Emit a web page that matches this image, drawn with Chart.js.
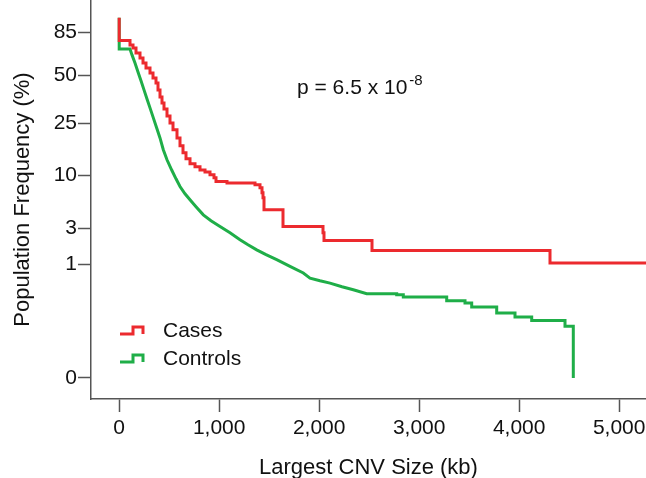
<!DOCTYPE html>
<html>
<head>
<meta charset="utf-8">
<script src="https://cdn.jsdelivr.net/npm/chart.js@4"></script>
<style>
body{margin:0;background:#fff}
#box{width:646px;height:478px}
</style>
</head>
<body>
<div id="box"><canvas id="cnvChart"></canvas></div>
<script>

// cases: largest CNV size (kb) where the curve steps down, and the frequency (%) after the step
let casesSize=[0,0,108,138,168,208,238,268,308,338,368,388,408,428,448,478,508,538,578,608,638,668,708,758,808,858,908,948,968,1078,1358,1408,1428,1438,1448,1638,2038,2048,2528,4308,5400]
let casesFreq=[100,77,73,70.5,66.3,62.3,58.5,54.9,51.4,48.1,45,40.9,37,34,31.1,28,25.1,22.5,19.7,17.25,15.25,13.7,12.5,11.8,11.1,10.7,10.1,9.53,8.85,8.57,8.27,7.76,6.97,6.26,4.75,3.13,2.64,2.12,1.57,1.04,1.04]

// controls: points along the curve, the tail read as explicit steps
let controlsSize=[0,0,108,128,158,188,218,248,278,308,338,375,408,441,478,525,568,608,658,708,768,841,918,1008,1108,1208,1288,1375,1468,1575,1708,1841,1908,2008,2108,2228,2341,2475,2775,2775,2841,2841,3275,3275,3458,3458,3525,3525,3775,3775,3958,3958,4125,4125,4458,4458,4541,4541]
let controlsFreq=[100,69.6,69.6,64.7,58.5,52.1,46.3,40.9,36,31.6,27.6,23.2,19.7,16.1,13.45,11.1,9.34,7.98,6.83,5.98,5.1,4.2,3.63,3.13,2.64,2.17,1.87,1.6,1.37,1.16,0.92,0.72,0.59,0.53,0.48,0.41,0.36,0.3,0.3,0.285,0.285,0.255,0.255,0.211,0.211,0.187,0.187,0.15,0.15,0.106,0.106,0.082,0.082,0.065,0.065,0.042,0.042,0]

let yTicks=[0,1,3,10,25,50,85]
let xTicks=[0,1000,2000,3000,4000,5000]

let seriesNames=["Cases","Controls"]
let seriesColors=["#ec2a2e","#1fae48"]

let pText="p = 6.5 x 10"
let pExp="-8"

// the y axis is drawn on a fourth-root scale
function fwd(v){
return Math.pow(v,0.25)
}

function back(v){
return Math.round(Math.pow(v,4))
}

function points(xs,ys){
return xs.map((x,i)=>({x:x,y:fwd(ys[i])}))
}

let font="'Liberation Sans', Arial, sans-serif"

let extras={
id:"extras",
afterDatasetsDraw(chart){
let ctx=chart.ctx
let a=chart.chartArea
ctx.save()

// legend with step-shaped icons
ctx.lineWidth=3
ctx.lineJoin="miter"
let rows=[331,359]
seriesNames.forEach((name,i)=>{
let y=rows[i]
let x0=a.left+29
ctx.strokeStyle=seriesColors[i]
ctx.beginPath()
ctx.moveTo(x0,y+3)
ctx.lineTo(x0+13,y+3)
ctx.lineTo(x0+13,y-4)
ctx.lineTo(x0+23,y-4)
ctx.lineTo(x0+23,y+3)
ctx.stroke()
ctx.fillStyle="#111"
ctx.font="21px "+font
ctx.textBaseline="middle"
ctx.textAlign="left"
ctx.fillText(name,x0+43,y)
})

// p value
ctx.fillStyle="#111"
ctx.font="21px "+font
ctx.textBaseline="alphabetic"
ctx.fillText(pText,297,94)
let w=ctx.measureText(pText).width
ctx.font="15px "+font
ctx.fillText(pExp,297+w+2,85)

ctx.restore()
}
}

new Chart(
document.getElementById("cnvChart"),
{
type:"line",
data:{
datasets:[
{
label:seriesNames[0],
data:points(casesSize,casesFreq),
borderColor:seriesColors[0],
borderWidth:3,
stepped:"before",
pointRadius:0,
fill:false
},
{
label:seriesNames[1],
data:points(controlsSize,controlsFreq),
borderColor:seriesColors[1],
borderWidth:3,
pointRadius:0,
fill:false
}
]
},
options:{
responsive:true,
maintainAspectRatio:false,
animation:false,
layout:{padding:0},
plugins:{
legend:{display:false},
tooltip:{enabled:false}
},
scales:{
x:{
type:"linear",
min:-282,
max:5268,
afterBuildTicks:s=>{s.ticks=xTicks.map(v=>({value:v}))},
afterFit:s=>{s.height=79;s.paddingLeft=0;s.paddingRight=0},
grid:{drawOnChartArea:false,drawTicks:true,tickLength:13,tickWidth:1.5,tickColor:"#555"},
border:{display:true,color:"#555",width:1.5},
ticks:{
color:"#111",
padding:4,
maxRotation:0,
font:{family:font,size:21},
callback:v=>v.toLocaleString("en-US")
},
title:{
display:true,
text:"Largest CNV Size (kb)",
color:"#111",
font:{family:font,size:22},
padding:{top:0,bottom:-3}
}
},
y:{
type:"linear",
min:-0.185,
max:3.318,
afterBuildTicks:s=>{s.ticks=yTicks.map(v=>({value:fwd(v)}))},
afterFit:s=>{s.width=91;s.paddingTop=0;s.paddingBottom=0},
grid:{drawOnChartArea:false,drawTicks:true,tickLength:13,tickWidth:1.5,tickColor:"#555"},
border:{display:true,color:"#555",width:1.5},
ticks:{
color:"#111",
padding:1,
font:{family:font,size:21},
callback:v=>back(v)
},
title:{
display:true,
text:"Population Frequency (%)",
color:"#111",
font:{family:font,size:22},
padding:{top:10,bottom:0}
}
}
}
},
plugins:[extras]
})

</script>
</body>
</html>
